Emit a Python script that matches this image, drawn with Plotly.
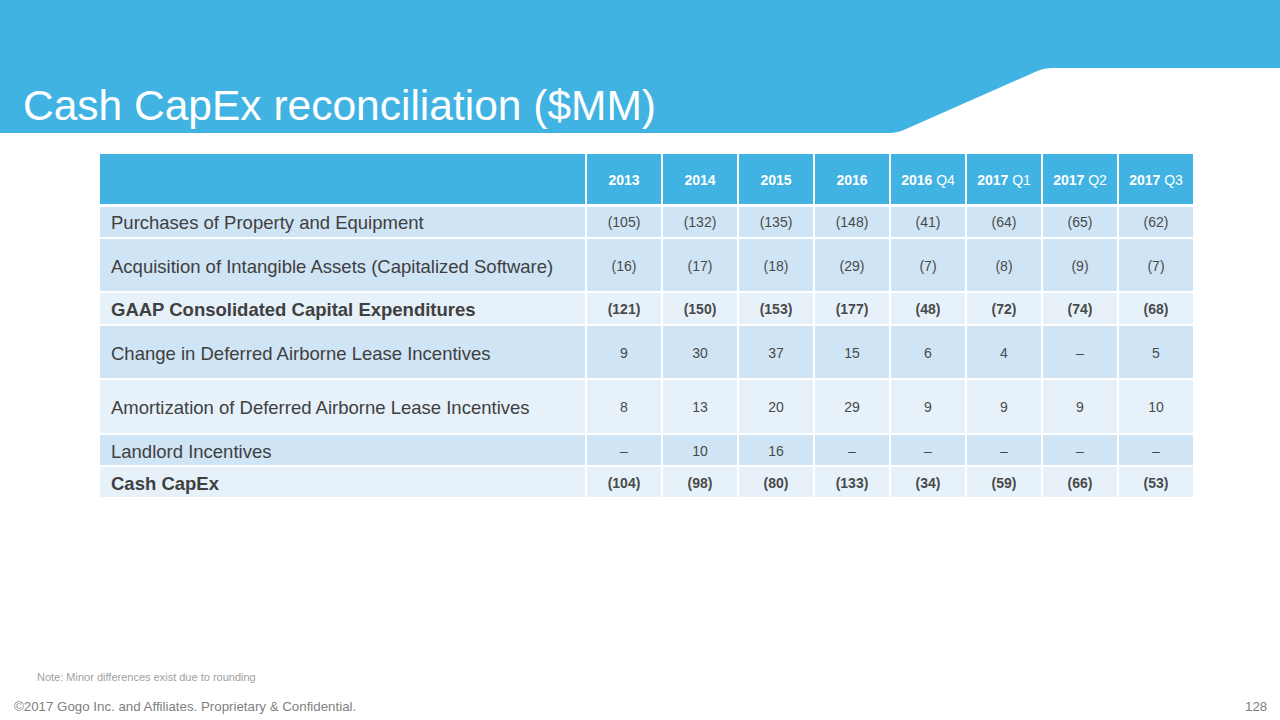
import plotly.graph_objects as go

# ---------------- data ----------------
title_text = "Cash CapEx reconciliation ($MM)"
col_years = ["2013", "2014", "2015", "2016", "2016", "2017", "2017", "2017"]
col_quarters = ["", "", "", "", "Q4", "Q1", "Q2", "Q3"]

row_labels = [
    "Purchases of Property and Equipment",
    "Acquisition of Intangible Assets (Capitalized Software)",
    "GAAP Consolidated Capital Expenditures",
    "Change in Deferred Airborne Lease Incentives",
    "Amortization of Deferred Airborne Lease Incentives",
    "Landlord Incentives",
    "Cash CapEx",
]
row_bold = [False, False, True, False, False, False, True]

purchases = [-105, -132, -135, -148, -41, -64, -65, -62]
intangible = [-16, -17, -18, -29, -7, -8, -9, -7]
gaap_capex = [-121, -150, -153, -177, -48, -72, -74, -68]
change_deferred = [9, 30, 37, 15, 6, 4, None, 5]
amortization = [8, 13, 20, 29, 9, 9, 9, 10]
landlord = [None, 10, 16, None, None, None, None, None]
cash_capex = [-104, -98, -80, -133, -34, -59, -66, -53]
table_values = [purchases, intangible, gaap_capex, change_deferred,
                amortization, landlord, cash_capex]

note_text = "Note: Minor differences exist due to rounding"
footer_text = "\u00a92017 Gogo Inc. and Affiliates. Proprietary & Confidential."
page_number = "128"

# ---------------- layout constants ----------------
W, H = 1280, 720
FONT = "Arial, Liberation Sans, Helvetica, sans-serif"
BLUE = "#41B3E3"
ROW_DARK = "#CFE4F4"
ROW_LIGHT = "#E6F1FA"
TEXT = "#404040"
NUM_TEXT = "#4A4A4A"

table_left = 99
label_col_w = 487
value_col_w = 76
table_top = 154
header_h = 51.5
row_heights = [32.5, 54, 33, 54, 55, 32, 32]
row_fills = [ROW_DARK, ROW_DARK, ROW_LIGHT, ROW_DARK, ROW_LIGHT, ROW_DARK, ROW_LIGHT]
text_nudge = 2  # scatter text renders slightly high; nudge down


def fmt(v):
    if v is None:
        return "\u2013"
    if v < 0:
        return f"({-v})"
    return f"{v}"


col_edges = [table_left, table_left + label_col_w]
for _ in col_years:
    col_edges.append(col_edges[-1] + value_col_w)
col_centers = [(col_edges[i + 1] + col_edges[i + 2]) / 2 for i in range(len(col_years))]

row_edges = [table_top, table_top + header_h]
for h in row_heights:
    row_edges.append(row_edges[-1] + h)

shapes = []
# banner
shapes.append(dict(
    type="path", xref="x", yref="y",
    path=("M 0,0 L 1280,0 L 1280,68 L 1053,68 Q 1043,68 1035,72 "
          "L 906,129 Q 898,133 889,133 L 0,133 Z"),
    fillcolor=BLUE, line=dict(width=0), layer="below"))

# header cells
for ci in range(len(col_edges) - 1):
    shapes.append(dict(type="rect", xref="x", yref="y",
                       x0=col_edges[ci] + 1, x1=col_edges[ci + 1] - 1,
                       y0=row_edges[0], y1=row_edges[1] - 1.5,
                       fillcolor=BLUE, line=dict(width=0), layer="below"))
# body cells
for ri in range(len(row_labels)):
    top_inset = 1.5 if ri == 0 else 1
    for ci in range(len(col_edges) - 1):
        shapes.append(dict(type="rect", xref="x", yref="y",
                           x0=col_edges[ci] + 1, x1=col_edges[ci + 1] - 1,
                           y0=row_edges[ri + 1] + top_inset, y1=row_edges[ri + 2] - 1,
                           fillcolor=row_fills[ri], line=dict(width=0), layer="below"))

fig = go.Figure()

# header text
header_y = (row_edges[0] + row_edges[1] - 1.5) / 2 + text_nudge
header_txt = [f"<b>{y}</b>" + (f" {q}" if q else "") for y, q in zip(col_years, col_quarters)]
fig.add_trace(go.Scatter(
    x=col_centers, y=[header_y] * len(col_centers), mode="text",
    text=header_txt, textposition="middle center",
    textfont=dict(family=FONT, size=14, color="white"),
    hoverinfo="skip", showlegend=False))

# values
for ri, vals in enumerate(table_values):
    cy = (row_edges[ri + 1] + row_edges[ri + 2]) / 2 + text_nudge
    txt = [fmt(v) for v in vals]
    if row_bold[ri]:
        txt = [f"<b>{t}</b>" for t in txt]
    fig.add_trace(go.Scatter(
        x=col_centers, y=[cy] * len(col_centers), mode="text",
        text=txt, textposition="middle center",
        textfont=dict(family=FONT, size=14, color=NUM_TEXT),
        hoverinfo="skip", showlegend=False))

annotations = []
for ri, lab in enumerate(row_labels):
    cy = (row_edges[ri + 1] + row_edges[ri + 2]) / 2 + 1
    annotations.append(dict(
        x=table_left + 10, y=cy, xref="x", yref="y",
        text=f"<b>{lab}</b>" if row_bold[ri] else lab,
        showarrow=False, xanchor="left", yanchor="middle",
        font=dict(family=FONT, size=18.5, color=TEXT)))

annotations.append(dict(x=21, y=105, xref="x", yref="y", text=title_text,
                        showarrow=False, xanchor="left", yanchor="middle",
                        font=dict(family=FONT, size=42.5, color="white")))
annotations.append(dict(x=35, y=677, xref="x", yref="y", text=note_text,
                        showarrow=False, xanchor="left", yanchor="middle",
                        font=dict(family=FONT, size=11, color="#A0A0A0")))
annotations.append(dict(x=12, y=706, xref="x", yref="y", text=footer_text,
                        showarrow=False, xanchor="left", yanchor="middle",
                        font=dict(family=FONT, size=13.3, color="#808080")))
annotations.append(dict(x=1269, y=706, xref="x", yref="y", text=page_number,
                        showarrow=False, xanchor="right", yanchor="middle",
                        font=dict(family=FONT, size=13.3, color="#808080")))

fig.update_layout(
    width=W, height=H,
    margin=dict(l=0, r=0, t=0, b=0),
    paper_bgcolor="white", plot_bgcolor="white",
    xaxis=dict(range=[0, W], visible=False, fixedrange=True),
    yaxis=dict(range=[H, 0], visible=False, fixedrange=True),
    shapes=shapes, annotations=annotations,
    showlegend=False,
)

fig.write_html(
    "out.html",
    config={"displayModeBar": False},
    post_script="document.body.style.margin='0';document.body.style.overflow='hidden';",
)
